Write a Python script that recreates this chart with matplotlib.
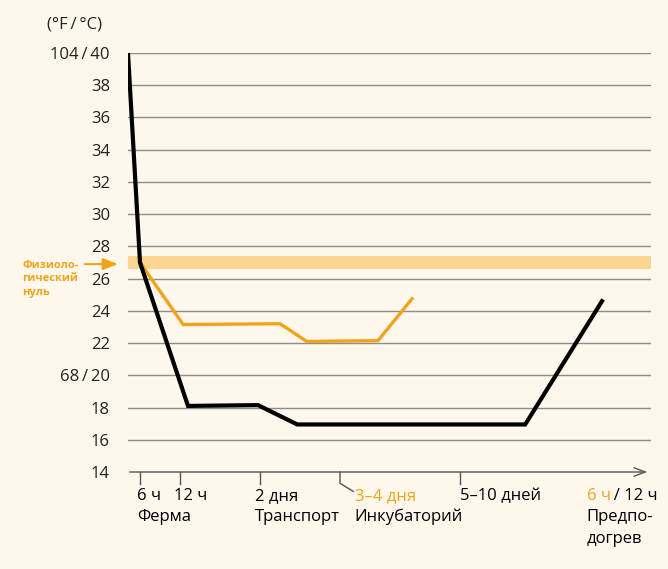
import matplotlib.pyplot as plt
import numpy as np

plt.rcParams['font.family'] = ['Open Sans', 'DejaVu Sans']

# colours
bg = '#fef7ec'
orange = '#efa41c'
band_col = '#fbd591'
grid_col = '#8c8c8c'

# data (x is a position along the time axis, y in °C)
black_x = [0.7, 1.0, 2.2, 3.95, 4.93, 10.63, 12.55]
black_y = [40.0, 27.0, 18.1, 18.15, 16.95, 16.95, 24.6]
orange_x = [1.0, 2.08, 4.5, 5.17, 6.95, 7.8]
orange_y = [27.0, 23.15, 23.2, 22.1, 22.15, 24.75]

y_ticks = [14, 16, 18, 20, 22, 24, 26, 28, 30, 32, 34, 36, 38, 40]
y_labels = ['14', '16', '18', '68\u2009/\u200920', '22', '24', '26', '28', '30', '32', '34',
            '36', '38', '104\u2009/\u200940']
x_ticks = [1, 2, 4, 9]
x_bent_tick = 6
band = (26.6, 27.4)

fig = plt.figure(figsize=(6.68, 5.69), dpi=100, facecolor=bg)
ax = fig.add_axes([128 / 668, 97 / 569, 523 / 668, 419 / 569])
ax.set_facecolor(bg)
ax.set_xlim(0.7, 13.775)
ax.set_ylim(14, 40)
for s in ax.spines.values():
    s.set_visible(False)

# grid lines (bottom one is the x axis)
for yv in y_ticks[1:]:
    ax.axhline(yv, color=grid_col, lw=1.0, zorder=1)
ax.axhspan(band[0], band[1], color=band_col, lw=0, zorder=1.5)

ax.set_yticks(y_ticks)
ax.set_yticklabels(y_labels)
ax.tick_params(axis='y', length=0, pad=13, labelsize=12, colors='#222222')
ax.set_xticks([])

# lines
ax.plot(orange_x, orange_y, color=orange, lw=2.4, zorder=3, solid_joinstyle='miter')
ax.plot(black_x, black_y, color='black', lw=3.0, zorder=4, solid_joinstyle='miter')

# x axis with open arrow
ax.annotate('', xy=(13.75, 14), xytext=(0.67, 14), xycoords='data',
            arrowprops=dict(arrowstyle='->,head_length=0.8,head_width=0.3',
                            color='#555555', lw=1.0, mutation_scale=10),
            annotation_clip=False, zorder=5)

# ticks below the axis
for xv in x_ticks:
    ax.plot([xv, xv], [14, 13.25], color='#555555', lw=1.0, clip_on=False)
ax.plot([x_bent_tick, x_bent_tick, 6.33], [14, 13.3, 12.8], color='#555555', lw=1.0,
        clip_on=False)

fs = 12
r1, r2, r3 = 12.51, 11.21, 9.84
ax.text(0.92, r1, '6 ч', fontsize=fs, va='center', ha='left', clip_on=False)
ax.text(1.85, r1, '12 ч', fontsize=fs, va='center', ha='left', clip_on=False)
ax.text(0.92, r2, 'Ферма', fontsize=fs, va='center', ha='left', clip_on=False)
ax.text(3.87, r1, '2 дня', fontsize=fs, va='center', ha='left', clip_on=False)
ax.text(3.87, r2, 'Транспорт', fontsize=fs, va='center', ha='left', clip_on=False)
ax.text(6.37, r1, '3–4 дня', fontsize=fs, va='center', ha='left', color=orange, clip_on=False)
ax.text(6.37, r2, 'Инкубаторий', fontsize=fs, va='center', ha='left', clip_on=False)
ax.text(9.0, r1, '5–10 дней', fontsize=fs, va='center', ha='left', clip_on=False)
t6 = ax.text(12.17, r1, '6 ч', fontsize=fs, va='center', ha='left', color=orange, clip_on=False)
ax.annotate('\u2009/ 12 ч', xy=(1, 0.5), xycoords=t6, fontsize=fs, va='center', ha='left')
ax.text(12.17, r2, 'Предпо-', fontsize=fs, va='center', ha='left', clip_on=False)
ax.text(12.17, r3, 'догрев', fontsize=fs, va='center', ha='left', clip_on=False)

# unit label
ax.text(0.05, 41.75, '(°F\u2009/\u2009°C)', fontsize=fs, va='center', ha='right',
        color='#222222', clip_on=False)

# physiological zero note
ax.text(-1.95, 26.0, 'Физиоло-\nгический\nнуль', fontsize=8, fontweight='bold',
        color=orange, va='center', ha='left', linespacing=1.3, clip_on=False)
ax.annotate('', xy=(0.52, 26.9), xytext=(-0.45, 26.9),
            arrowprops=dict(arrowstyle='-|>,head_length=0.9,head_width=0.35',
                            color=orange, lw=1.5, mutation_scale=10),
            annotation_clip=False)

fig.savefig('out.png', dpi=100, facecolor=bg)
